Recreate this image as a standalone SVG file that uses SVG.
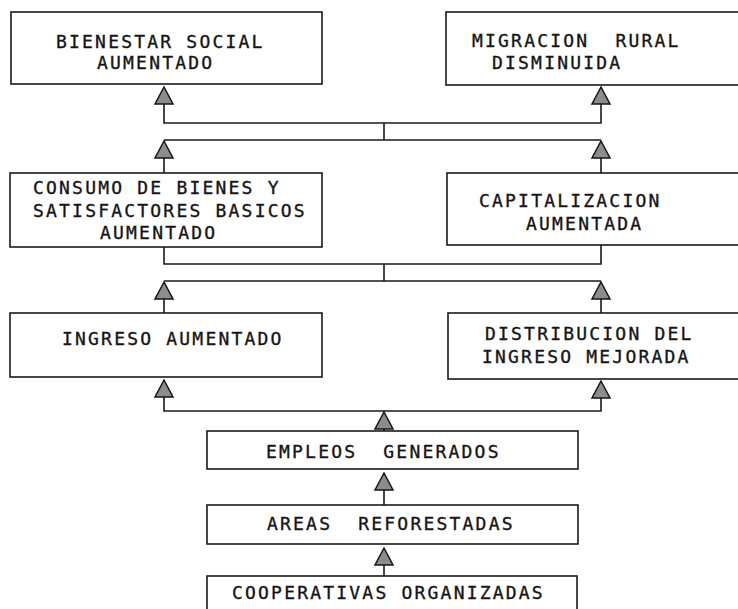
<svg xmlns="http://www.w3.org/2000/svg" xmlns:xlink="http://www.w3.org/1999/xlink" width="738" height="609" viewBox="0 0 738 609">
<style>
  .box { fill: #ffffff; stroke: #1a1a1a; stroke-width: 1.6; }
  .lbl { font-family: "DejaVu Sans Mono", "Liberation Mono", monospace; font-size: 18px; letter-spacing: 2.2px; fill: #151515; stroke: #151515; stroke-width: 0.35; }
  .ln { fill: none; stroke: #1a1a1a; stroke-width: 1.6; }
  .ah { fill: #8c8c8c; stroke: #151515; stroke-width: 1.5; stroke-linejoin: miter; }
</style>
<defs>
  <path id="ah" class="ah" d="M0,0 L9,17 L-9,17 Z"/>
</defs>
<rect width="738" height="609" fill="#ffffff"/>

<g id="connectors">
  <path class="ln" d="M164,104 V123 H601 V104"/>
  <path class="ln" d="M384,123 V140"/>
  <path class="ln" d="M164,173 V157 M164,140 H601 M601,157 V173"/>
  <use xlink:href="#ah" href="#ah" x="164" y="87"/>
  <use xlink:href="#ah" href="#ah" x="601" y="87"/>
  <use xlink:href="#ah" href="#ah" x="164" y="141"/>
  <use xlink:href="#ah" href="#ah" x="601" y="141"/>
  <path class="ln" d="M164,247 V264 H601 V245"/>
  <path class="ln" d="M384,264 V281"/>
  <path class="ln" d="M164,281 H601 M164,298 V313 M601,298 V313"/>
  <use xlink:href="#ah" href="#ah" x="164" y="282"/>
  <use xlink:href="#ah" href="#ah" x="601" y="282"/>
  <path class="ln" d="M164,396 V411 H601 V398"/>
  <path class="ln" d="M384,428 V431"/>
  <use xlink:href="#ah" href="#ah" x="164" y="380"/>
  <use xlink:href="#ah" href="#ah" x="601" y="381"/>
  <use xlink:href="#ah" href="#ah" x="384" y="412"/>
  <path class="ln" d="M384,489 V505 M384,564 V576"/>
  <use xlink:href="#ah" href="#ah" x="384" y="473"/>
  <use xlink:href="#ah" href="#ah" x="384" y="548"/>
</g>

<g id="n1">
  <rect class="box" x="11" y="12" width="311" height="72"/>
  <text class="lbl" x="56" y="48">BIENESTAR SOCIAL</text>
  <text class="lbl" x="97" y="69">AUMENTADO</text>
</g>
<g id="n2">
  <rect class="box" x="446" y="12" width="310" height="73"/>
  <text class="lbl" x="472" y="47" xml:space="preserve">MIGRACION  RURAL</text>
  <text class="lbl" x="492" y="69">DISMINUIDA</text>
</g>
<g id="n3">
  <rect class="box" x="10" y="173" width="312" height="74"/>
  <text class="lbl" x="33" y="194">CONSUMO DE BIENES Y</text>
  <text class="lbl" x="33" y="217">SATISFACTORES BASICOS</text>
  <text class="lbl" x="100" y="239">AUMENTADO</text>
</g>
<g id="n4">
  <rect class="box" x="447" y="173" width="310" height="72"/>
  <text class="lbl" x="479" y="207">CAPITALIZACION</text>
  <text class="lbl" x="526" y="230">AUMENTADA</text>
</g>
<g id="n5">
  <rect class="box" x="10" y="313" width="312" height="64"/>
  <text class="lbl" x="62" y="345">INGRESO AUMENTADO</text>
</g>
<g id="n6">
  <rect class="box" x="448" y="313" width="310" height="66"/>
  <text class="lbl" x="485" y="340">DISTRIBUCION DEL</text>
  <text class="lbl" x="482" y="363">INGRESO MEJORADA</text>
</g>
<g id="n7">
  <rect class="box" x="207" y="431" width="371" height="38"/>
  <text class="lbl" x="266" y="458" xml:space="preserve">EMPLEOS  GENERADOS</text>
</g>
<g id="n8">
  <rect class="box" x="207" y="505" width="371" height="39"/>
  <text class="lbl" x="267" y="530" xml:space="preserve">AREAS  REFORESTADAS</text>
</g>
<g id="n9">
  <rect class="box" x="207" y="576" width="370" height="50"/>
  <text class="lbl" x="232" y="599">COOPERATIVAS ORGANIZADAS</text>
</g>
</svg>
